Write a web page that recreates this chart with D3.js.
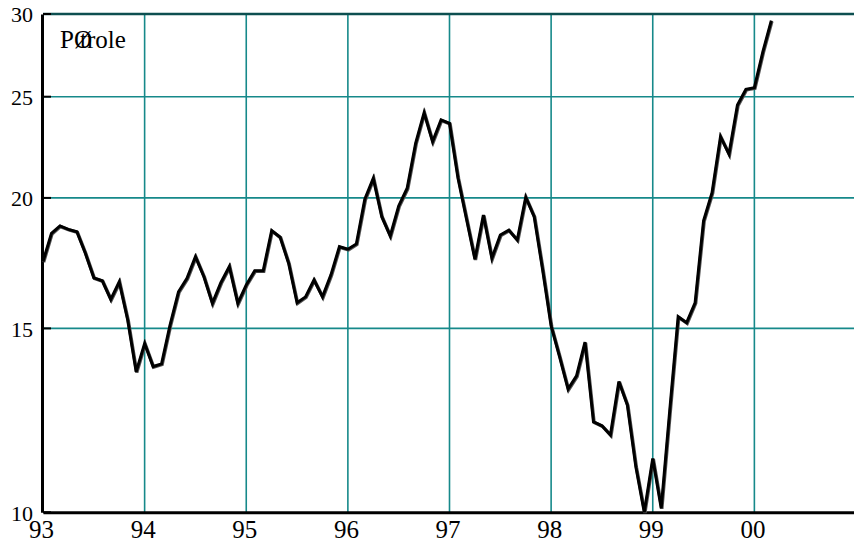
<!DOCTYPE html>
<html>
<head>
<meta charset="utf-8">
<script src="https://cdn.jsdelivr.net/npm/d3@7"></script>
<style>
body{margin:0;background:#fff}
svg{display:block}
</style>
</head>
<body>
<svg></svg>
<script>
const WIDTH = 854
const HEIGHT = 543
const TEAL = '#16898a'
const FONT = '"Liberation Serif", "DejaVu Serif", "Times New Roman", serif'

// monthly values, Jan 93 -> Mar 00
const startYear = 93
const prices = [
  17.38,18.50,18.80,18.66,18.56,17.70,16.77,16.66,15.99,16.62,15.28,13.63,
  14.51,13.79,13.87,15.11,16.26,16.75,17.57,16.81,15.85,16.59,17.19,15.85,
  16.51,17.03,17.03,18.61,18.34,17.32,15.87,16.08,16.69,16.08,16.88,17.96,
  17.86,18.07,19.94,20.88,19.19,18.39,19.65,20.43,22.56,24.13,22.64,23.75,
  23.57,20.90,19.10,17.47,19.26,17.51,18.43,18.63,18.23,20.03,19.19,17.06,
  15.08,14.09,13.12,13.51,14.55,12.21,12.10,11.86,13.34,12.67,11.06,10.00,
  11.26,10.09,12.50,15.39,15.19,15.87,19.02,20.23,22.89,22.03,24.54,25.41,
  25.50,27.60,29.56
]
const yTicks = [10,15,20,25,30]
const xTicks = [93,94,95,96,97,98,99,100]
const xLabels = ['93','94','95','96','97','98','99','00']
const title = ['P','Ø','trole']

const svg = d3.select('svg')
  .attr('width',WIDTH)
  .attr('height',HEIGHT)

const x = d3.scaleLinear().domain([93,101]).range([43,856])
const y = d3.scaleLog().domain([10,30]).range([512.3,14])

// grid
svg.append('g')
  .selectAll('line')
  .data(xTicks.slice(1))
  .enter().append('line')
  .attr('x1',d => x(d)).attr('x2',d => x(d))
  .attr('y1',y(30)).attr('y2',y(10))
  .attr('stroke',TEAL).attr('stroke-width',1.6)

svg.append('g')
  .selectAll('line')
  .data(yTicks.filter(d => d != 10))
  .enter().append('line')
  .attr('x1',x(93)).attr('x2',WIDTH)
  .attr('y1',d => y(d)).attr('y2',d => y(d))
  .attr('stroke',d => d == 30 ? '#0d4f50' : TEAL)
  .attr('stroke-width',d => d == 30 ? 2.6 : 1.6)

// short black ticks inside the left axis
svg.append('g')
  .selectAll('line')
  .data(yTicks)
  .enter().append('line')
  .attr('x1',x(93)).attr('x2',x(93)+8)
  .attr('y1',d => y(d)).attr('y2',d => y(d))
  .attr('stroke','#000').attr('stroke-width',2)

// axes
const yAxis = svg.append('g')
  .attr('transform',`translate(${x(93)-1},0)`)
  .attr('font-family',FONT)
  .call(d3.axisLeft(y).tickValues(yTicks).tickFormat(d3.format('d')).tickSize(0).tickPadding(9))
yAxis.attr('font-family',FONT).attr('font-size',22)
yAxis.select('.domain').attr('stroke','#000').attr('stroke-width',3)
yAxis.selectAll('text').attr('fill','#000').attr('dy','0.36em')

const xAxis = svg.append('g')
  .attr('transform',`translate(0,${y(10)})`)
  .call(d3.axisBottom(x).tickValues(xTicks).tickFormat((d,i) => xLabels[i]).tickSize(0).tickPadding(8))
xAxis.attr('font-family',FONT).attr('font-size',25)
xAxis.select('.domain').attr('stroke','#000').attr('stroke-width',3)
xAxis.selectAll('text').attr('fill','#000').attr('dx',-2)

// series
const line = d3.line()
  .x((d,i) => x(startYear + i/12))
  .y(d => y(d))

svg.append('path')
  .datum(prices)
  .attr('d',line)
  .attr('fill','none')
  .attr('stroke','#555')
  .attr('stroke-width',3.4)
  .attr('transform','translate(0.6,0.6)')

svg.append('path')
  .datum(prices)
  .attr('d',line)
  .attr('fill','none')
  .attr('stroke','#000')
  .attr('stroke-width',3)

// label
const label = svg.append('text')
  .attr('x',60).attr('y',48)
  .attr('font-family',FONT)
  .attr('font-size',25)
label.append('tspan').text(title[0])
label.append('tspan').text(title[1])
label.append('tspan').attr('dx',-12).text(title[2])
</script>
</body>
</html>
